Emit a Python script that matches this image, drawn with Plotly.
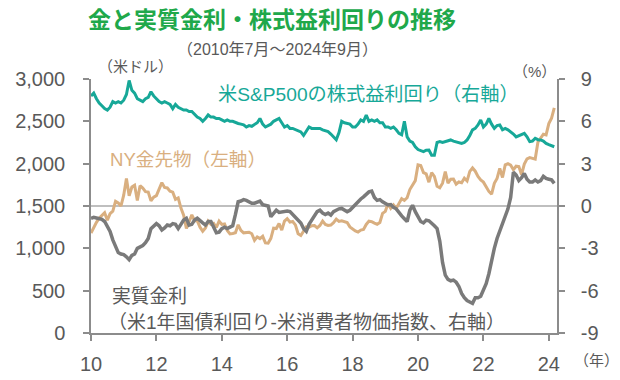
import plotly.graph_objects as go

# Monthly data, Jul 2010 - Sep 2024 (171 months)
months = list(range(171))
tick_pos = [0, 24, 48, 72, 96, 120, 144, 168]
tick_labels = ["10", "12", "14", "16", "18", "20", "22", "24"]

gold = [
    1181, 1248, 1307, 1357, 1386, 1421,
    1333, 1410, 1439, 1556, 1536, 1500, 1628, 1825, 1620, 1725, 1746, 1566,
    1740, 1711, 1669, 1664, 1560, 1604, 1622, 1692, 1776, 1719, 1713, 1675,
    1663, 1578, 1595, 1476, 1392, 1234, 1312, 1395, 1327, 1323, 1250, 1202,
    1240, 1321, 1284, 1296, 1246, 1322, 1282, 1287, 1210, 1171, 1175, 1184,
    1278, 1213, 1183, 1184, 1190, 1172, 1095, 1135, 1115, 1142, 1064, 1060,
    1118, 1238, 1234, 1293, 1215, 1322, 1351, 1309, 1317, 1277, 1173, 1152,
    1211, 1253, 1249, 1268, 1269, 1242, 1270, 1322, 1283, 1271, 1275, 1303,
    1345, 1318, 1325, 1316, 1305, 1253, 1224, 1206, 1192, 1215, 1222, 1282,
    1321, 1316, 1298, 1285, 1305, 1413, 1437, 1529, 1472, 1513, 1472, 1523,
    1587, 1566, 1597, 1694, 1751, 1800, 1986, 1978, 1895, 1879, 1781, 1895,
    1850, 1734, 1716, 1769, 1905, 1771, 1817, 1819, 1757, 1784, 1775, 1829,
    1796, 1909, 1949, 1911, 1848, 1807, 1782, 1726, 1672, 1640, 1768, 1826,
    1945, 1836, 1986, 1999, 1982, 1929, 1970, 1966, 1870, 1996, 2057, 2072,
    2067, 2054, 2254, 2302, 2348, 2339, 2473, 2537, 2660,
]

earnings_yield = [
    7.8, 8.0, 7.6, 7.3, 7.1, 6.9,
    6.8, 7.0, 7.4, 7.3, 7.4, 7.3, 7.5, 7.9, 8.9, 8.2, 8.0, 7.6,
    7.5, 7.4, 7.6, 7.7, 8.1, 7.8, 7.6, 7.4, 7.3, 7.4, 7.3, 7.2,
    6.9, 7.2, 7.0, 6.9, 6.8, 6.8, 6.7, 6.7, 6.5, 6.3, 6.2, 6.0,
    6.2, 6.45, 6.3, 6.3, 6.2, 6.2, 6.1, 6.0, 6.1, 6.0, 6.0, 5.9,
    5.85, 5.8, 5.75, 5.6, 5.7, 5.65, 5.8, 5.9, 6.2, 5.8, 5.6, 5.7,
    5.8, 6.0, 6.1, 6.2, 5.9, 5.6, 5.7, 5.5, 5.5, 5.4, 5.3, 5.25,
    5.0, 5.3, 5.6, 5.5, 5.5, 5.45, 5.5, 5.4, 5.35, 5.27, 5.1, 4.9,
    4.7, 5.2, 6.0, 5.9, 5.86, 5.8, 5.6, 5.6, 5.8, 6.1, 6.0, 6.45,
    6.0, 6.1, 6.0, 6.1, 5.9, 5.9, 5.6, 5.6, 5.5, 5.6, 5.4, 5.15,
    5.05, 6.0, 4.9, 4.6, 4.5, 4.2, 4.0, 3.9, 3.85, 3.95, 3.97, 3.6,
    3.6, 4.5, 4.56, 4.5, 4.56, 4.6, 4.68, 4.6, 4.56, 4.5, 4.44, 4.5,
    4.68, 5.0, 5.4, 5.5, 5.74, 6.1, 5.6, 5.8, 6.2, 5.8, 5.5, 5.7,
    5.74, 5.4, 5.5, 5.4, 5.27, 5.1, 4.9, 5.0, 5.1, 5.15, 4.9, 4.56,
    4.6, 4.8, 4.7, 4.68, 4.6, 4.44, 4.35, 4.3, 4.2,
]

real_rate = [
    -0.87, -0.8, -0.85, -0.87, -0.95, -1.1,
    -1.4, -1.8, -2.4, -2.9, -3.3, -3.4, -3.45, -3.6, -3.8, -3.5, -3.4, -3.0,
    -2.9, -2.8, -2.6, -2.3, -1.6, -1.45, -1.25, -1.4, -1.7, -1.55, -1.35, -1.4,
    -1.25, -1.3, -1.6, -1.3, -1.0, -0.87, -1.35, -1.3, -1.0, -0.87, -1.0, -1.2,
    -1.35, -1.1, -1.1, -1.5, -1.9, -1.85, -1.6, -1.5, -1.6, -1.5, -1.4, -0.6,
    0.3, 0.35, 0.45, 0.4, 0.3, 0.2, 0.2, 0.3, 0.35, 0.1, 0.05, 0.0,
    -0.76, -0.5, -0.3, -0.45, -0.4, -0.4, -0.35, -0.4, -0.6, -0.87, -1.0, -1.2,
    -1.6, -1.8, -1.3, -1.0, -0.6, -0.4, -0.3, -0.5, -0.6, -0.5, -0.64, -0.4,
    -0.3, -0.2, -0.17, -0.3, -0.4, -0.3, -0.1, 0.15, 0.3, 0.5, 0.65, 0.8,
    1.0, 1.06, 0.6, 0.4, 0.45, 0.3, 0.15, 0.07, 0.1, -0.1, -0.2, -0.5,
    -0.7, -0.9, -1.1, -0.3, 0.05, -0.4, -0.8, -1.1, -1.2, -1.0, -1.05, -1.2,
    -1.4, -1.6, -2.5, -4.0, -4.9, -5.2, -5.3, -5.25, -5.4, -5.7, -6.2, -6.5,
    -6.7, -6.8, -6.9, -6.5, -6.5, -6.4, -6.0, -5.5, -4.8, -3.8, -3.0, -2.3,
    -1.8, -1.3, -0.8, -0.2, 0.6, 2.4, 2.2, 1.8, 2.0, 2.3, 1.9, 1.7,
    1.7, 1.85, 1.7, 1.8, 2.1, 1.95, 1.9, 1.85, 1.6,
]

left_ticks = [0, 500, 1000, 1500, 2000, 2500, 3000]
left_labels = ["0", "500", "1,000", "1,500", "2,000", "2,500", "3,000"]
right_ticks = [-9, -6, -3, 0, 3, 6, 9]

TEAL = "#17A898"
GOLD = "#D9AF80"
GRAY = "#7A7A7A"
TXT = "#595959"
AX = "#8C8C8C"
FONT = "Liberation Sans, Arial, Noto Sans CJK JP"

ML, MR, MT, MB = 91, 63, 79, 47
W, H = 620, 380

fig = go.Figure()
fig.add_trace(go.Scatter(x=months, y=gold, mode="lines", yaxis="y",
                         line=dict(color=GOLD, width=3), hoverinfo="skip"))
fig.add_trace(go.Scatter(x=months, y=earnings_yield, mode="lines", yaxis="y2",
                         line=dict(color=TEAL, width=3), hoverinfo="skip"))
fig.add_trace(go.Scatter(x=months, y=real_rate, mode="lines", yaxis="y2",
                         line=dict(color=GRAY, width=3.5), hoverinfo="skip"))

fig.add_shape(type="line", xref="paper", x0=0, x1=1, yref="y2", y0=0, y1=0,
              line=dict(color="#BFBFBF", width=2), layer="below")

fig.update_layout(
    width=W, height=H,
    margin=dict(l=ML, r=MR, t=MT, b=MB, autoexpand=False),
    paper_bgcolor="white", plot_bgcolor="white",
    showlegend=False,
    font=dict(family=FONT, color=TXT),
    xaxis=dict(range=[0, 171], tickmode="array", tickvals=tick_pos, ticktext=tick_labels,
               showgrid=False, zeroline=False, showline=True, linecolor=AX, linewidth=1.5,
               ticks="outside", ticklen=6, tickcolor=AX, tickwidth=1.5, automargin=False,
               tickfont=dict(size=20, color=TXT), ticklabelstandoff=6),
    yaxis=dict(range=[0, 3000], tickmode="array", tickvals=left_ticks, ticktext=left_labels,
               showgrid=False, zeroline=False, showline=True, linecolor=AX, linewidth=1.5,
               ticks="outside", ticklen=6, tickcolor=AX, tickwidth=1.5, automargin=False,
               tickfont=dict(size=20, color=TXT), ticklabelstandoff=14),
    yaxis2=dict(range=[-9, 9], overlaying="y", side="right", tickmode="array",
                tickvals=right_ticks, ticktext=[str(v) for v in right_ticks],
                showgrid=False, zeroline=False, showline=True, linecolor=AX, linewidth=1.5,
                ticks="outside", ticklen=6, tickcolor=AX, tickwidth=1.5, automargin=False,
                tickfont=dict(size=20, color=TXT), ticklabelstandoff=12),
)

def px_ann(text, x, y, size, color, xanchor="left", bold=False):
    fig.add_annotation(text=("<b>%s</b>" % text) if bold else text,
                       xref="paper", yref="paper",
                       x=(x - ML) / (W - ML - MR), y=(H - MB - y) / (H - MT - MB),
                       xanchor=xanchor, yanchor="middle", showarrow=False,
                       font=dict(size=size, color=color, family=FONT))

px_ann("金と実質金利・株式益利回りの推移", 272, 20, 23, "#20A84A", "center", bold=True)
px_ann("（2010年7月～2024年9月）", 277, 49, 16, TXT, "center")
px_ann("（米ドル）", 96, 66, 15, TXT, "left")
px_ann("（%）", 558, 71, 15, TXT, "right")
px_ann("米S&P500の株式益利回り（右軸）", 216, 94, 19.2, TEAL, "left")
px_ann("NY金先物（左軸）", 108, 159, 18.6, GOLD, "left")
px_ann("実質金利", 110, 296, 18.8, TXT, "left")
px_ann("（米1年国債利回り-米消費者物価指数、右軸）", 106, 322, 19, TXT, "left")
px_ann("（年）", 572, 360, 15, TXT, "left")

fig.write_html("out.html", config={"displayModeBar": False},
               post_script="document.body.style.margin='0px';document.body.style.overflow='hidden';")
